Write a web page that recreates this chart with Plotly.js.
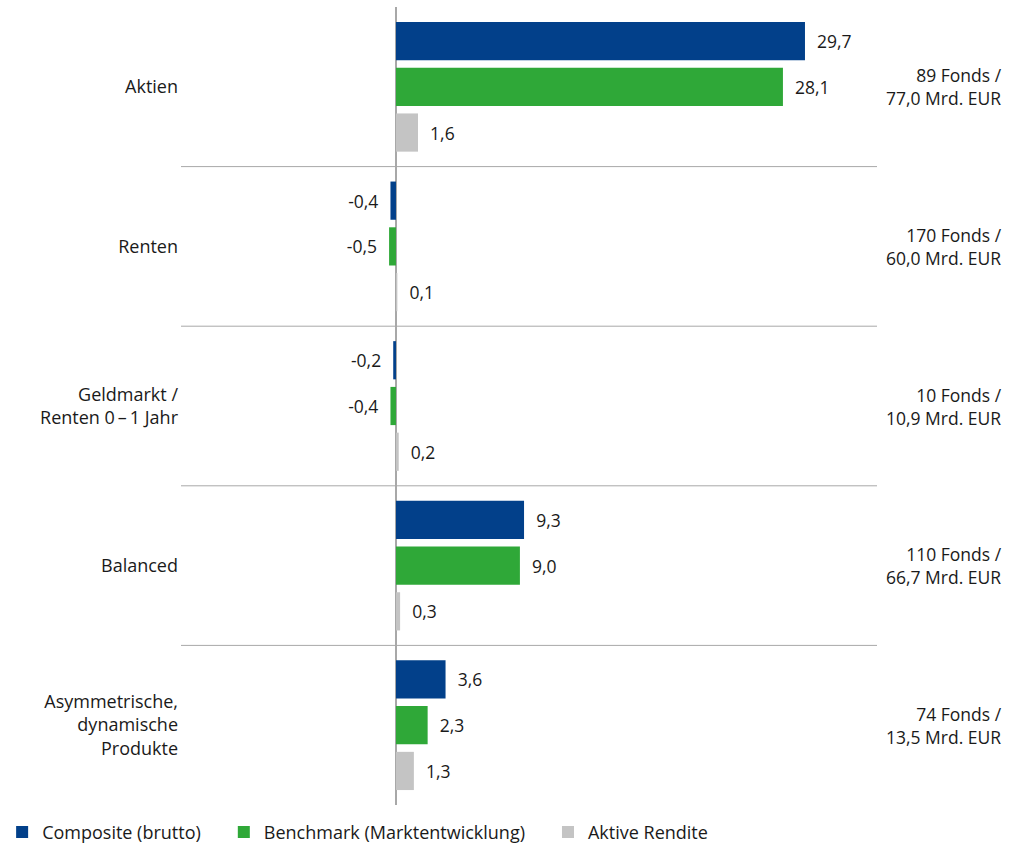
<!DOCTYPE html>
<html><head><meta charset="utf-8">
<script src="https://cdn.plot.ly/plotly-3.0.1.min.js"></script>
<style>html,body{margin:0;padding:0;background:#fff;}#chart{width:1024px;height:843px;}</style>
</head><body><div id="chart"></div>
<script>
var categories = ['Aktien','Renten','Geldmarkt /<br>Renten 0\u2009–\u20091 Jahr','Balanced','Asymmetrische,<br>dynamische<br>Produkte'];
var composite = [29.7,-0.4,-0.2,9.3,3.6];
var benchmark = [28.1,-0.5,-0.4,9.0,2.3];
var active = [1.6,0.1,0.2,0.3,1.3];
var fundsInfo = ['89 Fonds /<br>77,0 Mrd. EUR','170 Fonds /<br>60,0 Mrd. EUR','10 Fonds /<br>10,9 Mrd. EUR','110 Fonds /<br>66,7 Mrd. EUR','74 Fonds /<br>13,5 Mrd. EUR'];
var seriesNames = ['Composite (brutto)','Benchmark (Marktentwicklung)','Aktive Rendite'];
var colors = ['#02408a','#2fa838','#c4c4c4'];

var FONT = 'Open Sans, Noto Sans, sans-serif';
var FS = 18;
function labels(vals){
  return vals.map(function(v){
    var s = v.toFixed(1).replace('.',',');
    return v < 0 ? s + '\u00a0\u00a0' : '\u00a0\u00a0' + s;
  });
}
var traces = [composite, benchmark, active].map(function(vals,i){
  return {
    type:'bar', orientation:'h', y:categories, x:vals,
    name: seriesNames[i] + (i < 2 ? '\u2002\u2002' : ''),
    marker:{color:colors[i]}, text:labels(vals), texttemplate:'%{text}',
    textposition:'outside', cliponaxis:false, constraintext:'none',
    textfont:{family:FONT,size:FS-0.5,color:'#1a1a1a'}, hoverinfo:'skip'
  };
});
var shapes = [];
for (var k=0;k<categories.length-1;k++){
  shapes.push({type:'line',xref:'paper',x0:0,x1:1,yref:'y',y0:k+0.5,y1:k+0.5,line:{color:'#a8a8a8',width:1},layer:'below'});
}
var annotations = fundsInfo.map(function(t,i){
  return {xref:'paper',x:1.1825,xanchor:'right',yref:'y',y:categories[i],yanchor:'middle',text:t,align:'right',showarrow:false,font:{family:FONT,size:FS-0.5,color:'#1a1a1a'}};
});
var layout = {
  width:1024,height:843,margin:{l:181,r:147,t:7,b:38,autoexpand:false},
  paper_bgcolor:'#fff',plot_bgcolor:'#fff',
  barmode:'group',bargap:0.14,bargroupgap:0.165,
  font:{family:FONT,size:FS,color:'#1a1a1a'},
  xaxis:{range:[-15.61,34.93],showticklabels:false,showgrid:false,zeroline:true,zerolinecolor:'#a8a8a8',zerolinewidth:2,fixedrange:true,automargin:false},
  yaxis:{type:'category',autorange:'reversed',showgrid:false,zeroline:false,ticks:'',ticklabelstandoff:2,tickfont:{family:FONT,size:FS,color:'#1a1a1a'},fixedrange:true,automargin:false},
  shapes:shapes,annotations:annotations,
  showlegend:true,
  legend:{orientation:'h',xref:'paper',yref:'paper',x:-0.257,y:-0.011,xanchor:'left',yanchor:'top',font:{family:FONT,size:FS,color:'#1a1a1a'},traceorder:'normal'}
};
Plotly.newPlot('chart',traces,layout,{displayModeBar:false,staticPlot:true});
</script></body></html>
